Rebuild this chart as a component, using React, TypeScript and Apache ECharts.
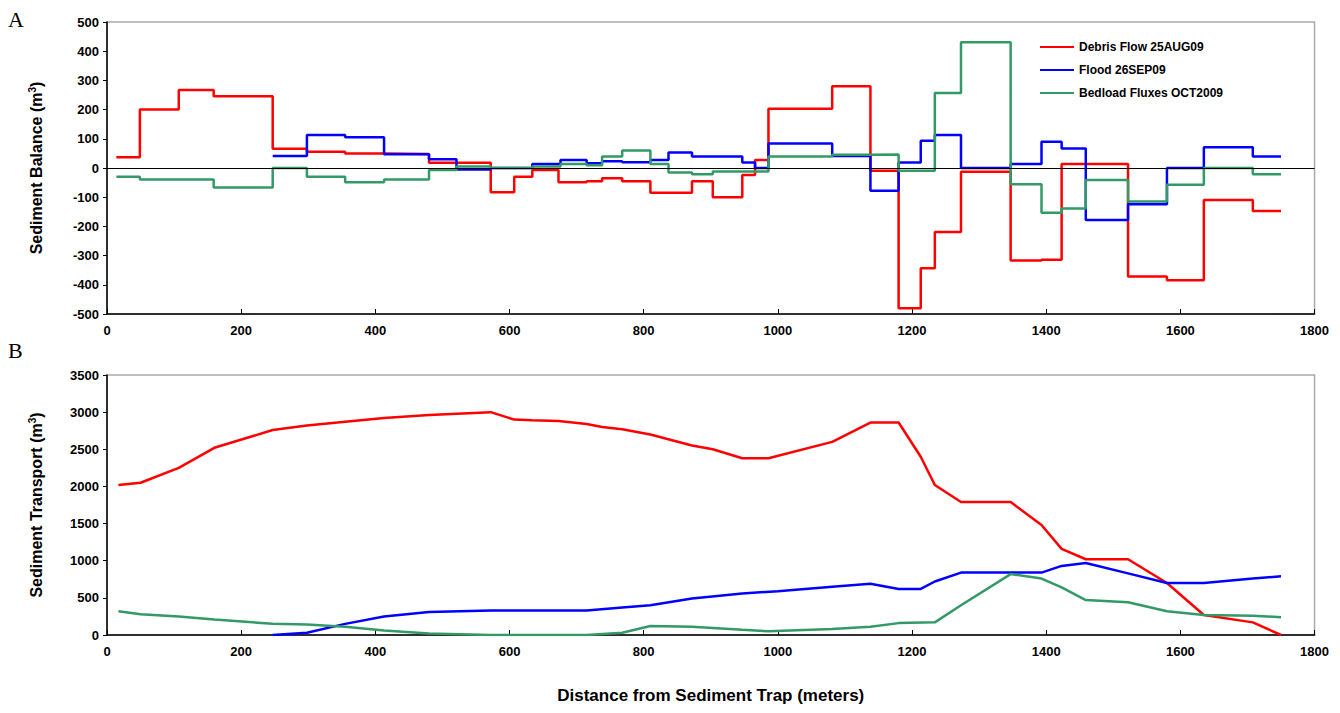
import React, { useEffect, useRef } from 'react';
import * as echarts from 'echarts';

// Balance (panel A): step segments, value holds from x[i] to x[i+1]
const debrisBalX = [14, 49, 107, 159, 247, 298, 355, 413, 480, 572, 607, 634, 673, 715, 738, 768, 810, 872, 903, 947, 966, 986, 1081, 1138, 1180, 1213, 1234, 1273, 1347, 1393, 1423, 1522, 1580, 1635, 1708, 1750];
const debrisBalV = [37, 200, 267, 246, 66, 56, 50, 48, 18, -83, -30, -7, -49, -45, -35, -45, -85, -45, -100, -24, 27, 203, 280, -9, -480, -343, -219, -13, -317, -314, 14, -372, -384, -110, -147];
const floodBalX = [247, 298, 355, 413, 480, 521, 572, 634, 676, 715, 738, 768, 810, 837, 872, 947, 966, 986, 1081, 1138, 1180, 1213, 1234, 1273, 1347, 1393, 1423, 1459, 1522, 1580, 1635, 1708, 1750];
const floodBalV = [41, 113, 105, 47, 30, -5, 0, 14, 27, 16, 23, 20, 27, 53, 39, 19, 0, 84, 41, -78, 19, 93, 113, 0, 14, 90, 67, -178, -124, 0, 71, 39];
const bedBalX = [14, 49, 159, 247, 298, 355, 413, 480, 521, 572, 634, 676, 715, 738, 768, 810, 837, 872, 903, 986, 1081, 1138, 1180, 1234, 1273, 1347, 1393, 1423, 1459, 1522, 1580, 1635, 1708, 1750];
const bedBalV = [-30, -39, -67, 0, -30, -49, -39, -7, 5, 0, 5, 14, 9, 39, 60, 14, -15, -21, -12, 39, 45, 46, -9, 257, 431, -56, -153, -139, -41, -115, -57, 0, -21];

// Transport (panel B)
const debrisTrX = [17, 50, 107, 160, 247, 298, 355, 413, 480, 572, 607, 634, 673, 715, 738, 768, 810, 872, 903, 947, 986, 1081, 1138, 1180, 1213, 1234, 1273, 1347, 1393, 1423, 1459, 1522, 1580, 1635, 1708, 1750];
const debrisTrV = [2020, 2050, 2250, 2520, 2760, 2820, 2870, 2920, 2960, 3000, 2900, 2890, 2880, 2840, 2800, 2770, 2700, 2550, 2500, 2380, 2380, 2600, 2860, 2860, 2400, 2020, 1790, 1790, 1480, 1160, 1020, 1020, 700, 270, 170, 0];
const floodTrX = [247, 298, 355, 413, 480, 572, 634, 715, 768, 810, 872, 947, 1000, 1081, 1138, 1180, 1213, 1234, 1273, 1347, 1393, 1423, 1459, 1522, 1580, 1635, 1708, 1750];
const floodTrV = [0, 30, 150, 250, 310, 330, 330, 330, 370, 400, 490, 560, 590, 650, 690, 620, 620, 720, 840, 840, 840, 930, 970, 830, 700, 700, 760, 790];
const bedTrX = [17, 50, 107, 160, 247, 298, 355, 413, 480, 572, 715, 768, 810, 872, 947, 986, 1081, 1138, 1180, 1234, 1273, 1347, 1393, 1423, 1459, 1522, 1580, 1635, 1708, 1750];
const bedTrV = [320, 280, 250, 210, 150, 140, 110, 60, 20, 0, 0, 30, 120, 110, 70, 50, 80, 110, 160, 170, 400, 820, 760, 640, 470, 440, 320, 270, 260, 240];

const names = ['Debris Flow 25AUG09', 'Flood 26SEP09', 'Bedload Fluxes OCT2009'];
const colors = ['#ff0000', '#0000ff', '#339966'];

const stepPts = (xs: number[], vs: number[]) => {
  const pts = vs.map((v, i) => [xs[i], v]);
  pts.push([xs[xs.length - 1], vs[vs.length - 1]]);
  return pts;
};
const zip = (xs: number[], vs: number[]) => xs.map((x, i) => [x, vs[i]]);

export default function App() {
  const ref = useRef<HTMLDivElement>(null);
  useEffect(() => {
    const chart = echarts.init(ref.current!, null, { renderer: 'svg' });
    const font = 'Arial, "Liberation Sans", sans-serif';
    const plain = (v: number) => String(v);
    const xBase = {
      type: 'value', min: 0, max: 1800, interval: 200,
      axisLine: { onZero: false, lineStyle: { color: '#000', width: 1.5 } },
      axisTick: { show: true, inside: true, length: 5, lineStyle: { color: '#000' } },
      axisLabel: { color: '#000', fontFamily: font, fontWeight: 'bold', fontSize: 13, margin: 10, formatter: plain },
      splitLine: { show: false },
    };
    const yName = (t: string) => ({
      name: `{b|${t} (m}{s|3}{b|)}`,
      nameLocation: 'middle', nameRotate: 90,
      nameTextStyle: {
        rich: {
          b: { fontFamily: font, fontWeight: 'bold', fontSize: 16, color: '#000' },
          s: { fontFamily: font, fontWeight: 'bold', fontSize: 10, color: '#000', verticalAlign: 'top', padding: [0, 0, 8, 0] },
        },
      },
    });
    const yLab = { color: '#000', fontFamily: font, fontWeight: 'bold', fontSize: 13, formatter: plain };
    const balSeries = [[debrisBalX, debrisBalV], [floodBalX, floodBalV], [bedBalX, bedBalV]].map(([xs, vs], i) => ({
      name: names[i], type: 'line', step: 'end', xAxisIndex: 0, yAxisIndex: 0,
      data: stepPts(xs, vs), showSymbol: false, lineStyle: { color: colors[i], width: 2.5 },
      itemStyle: { color: colors[i] },
      markLine: i === 0 ? {
        silent: true, symbol: 'none', label: { show: false },
        lineStyle: { color: '#000', type: 'solid', width: 1.2 }, data: [{ yAxis: 0 }],
      } : undefined,
      z: i === 0 ? 2 : 3,
    }));
    const trSeries = [[debrisTrX, debrisTrV], [floodTrX, floodTrV], [bedTrX, bedTrV]].map(([xs, vs], i) => ({
      name: names[i] + ' ', type: 'line', xAxisIndex: 1, yAxisIndex: 1,
      data: zip(xs, vs), showSymbol: false, lineStyle: { color: colors[i], width: 2.5 },
    }));
    chart.setOption({
      animation: false,
      backgroundColor: '#fff',
      grid: [
        { left: 99, right: 14, top: 14, height: 292, show: true, borderColor: '#aaa', borderWidth: 1.5 },
        { left: 99, right: 14, top: 367, bottom: 68, show: true, borderColor: '#aaa', borderWidth: 1.5 },
      ],
      xAxis: [
        { ...xBase, gridIndex: 0 },
        {
          ...xBase, gridIndex: 1,
          name: 'Distance from Sediment Trap (meters)', nameLocation: 'middle', nameGap: 52,
          nameTextStyle: { fontFamily: font, fontWeight: 'bold', fontSize: 17, color: '#000' },
        },
      ],
      yAxis: [
        {
          type: 'value', gridIndex: 0, min: -500, max: 500, interval: 100, nameGap: 62, ...yName('Sediment Balance'),
          axisLine: { show: true, lineStyle: { color: '#000', width: 1.5 } },
          axisTick: { show: true, length: 4, lineStyle: { color: '#000' } },
          axisLabel: yLab, splitLine: { show: false },
        },
        {
          type: 'value', gridIndex: 1, min: 0, max: 3500, interval: 500, nameGap: 62, ...yName('Sediment Transport'),
          axisLine: { show: true, lineStyle: { color: '#000', width: 1.5 } },
          axisTick: { show: true, length: 4, lineStyle: { color: '#000' } },
          axisLabel: yLab, splitLine: { show: false },
        },
      ],
      legend: {
        data: names, orient: 'vertical', left: 1027, top: 28, itemGap: 11,
        itemWidth: 34, itemHeight: 10, icon: 'path://M0,4 L34,4 L34,6 L0,6 Z',
        textStyle: { fontFamily: font, fontWeight: 'bold', fontSize: 12, color: '#000' },
      },
      graphic: [
        { type: 'text', left: 0, top: 0, style: { text: 'A', font: '22px "Liberation Serif", serif', fill: '#000' } },
        { type: 'text', left: 0, top: 331, style: { text: 'B', font: '22px "Liberation Serif", serif', fill: '#000' } },
      ],
      series: [...balSeries, ...trSeries],
    });
    return () => chart.dispose();
  }, []);
  return <div ref={ref} style={{ width: 1324, height: 697 }} />;
}
